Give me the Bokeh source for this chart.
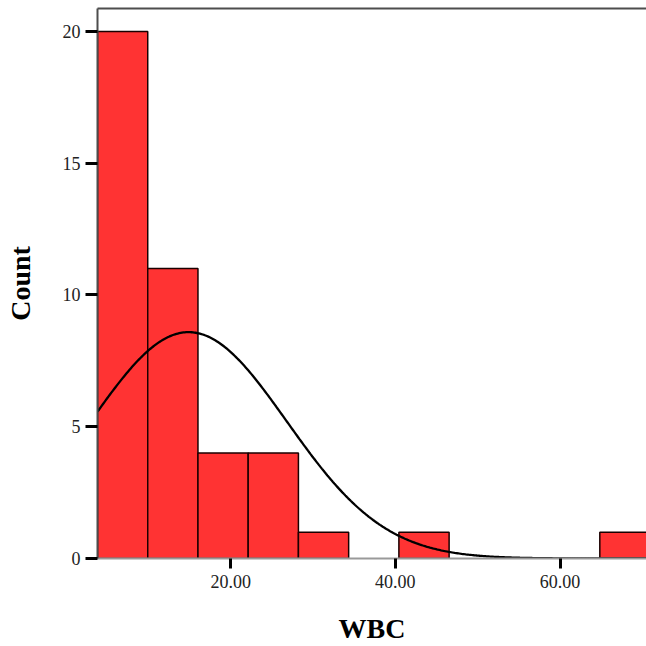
import numpy as np
from bokeh.plotting import figure
from bokeh.models import FixedTicker, NumeralTickFormatter, Range1d, LinearAxis
from bokeh.embed import file_html
from bokeh.resources import INLINE

# Data
bin_edges = [3.83, 9.93, 16.03, 22.13, 28.23, 34.33, 40.43, 46.53, 52.63, 58.73, 64.83, 70.93]
counts = [20, 11, 4, 4, 1, 0, 1, 0, 0, 0, 1]
x_ticks = [20, 40, 60]
y_ticks = [0, 5, 10, 15, 20]
# normal-curve parameters (fitted to the sample)
wbc_mean = 14.9
wbc_sd = 11.9

n_total = sum(counts)
bw = bin_edges[1] - bin_edges[0]

p = figure(width=646, height=646, output_backend="svg", toolbar_location=None,
           x_range=Range1d(3.83, 70.5), y_range=Range1d(0, 20.87),
           min_border_left=97, min_border_top=8, min_border_right=0, min_border_bottom=87)

lefts = [bin_edges[i] for i in range(len(counts)) if counts[i] > 0]
rights = [bin_edges[i + 1] for i in range(len(counts)) if counts[i] > 0]
tops = [c for c in counts if c > 0]
p.quad(left=lefts, right=rights, bottom=0, top=tops,
       fill_color="#FF3333", line_color="#1a0000", line_width=1.5)

xs = np.linspace(bin_edges[0], bin_edges[-1], 400)
ys = n_total * bw * np.exp(-0.5 * ((xs - wbc_mean) / wbc_sd) ** 2) / (wbc_sd * np.sqrt(2 * np.pi))
p.line(xs, ys, line_color="black", line_width=2.3)

p.xgrid.visible = False
p.ygrid.visible = False
p.outline_line_color = None

top_axis = LinearAxis(ticker=FixedTicker(ticks=[]), axis_line_color="#4d4d4d", axis_line_width=2,
                      major_label_text_font_size="0px", major_tick_line_color=None,
                      minor_tick_line_color=None, major_tick_out=0, major_tick_in=0,
                      major_label_standoff=0)
p.add_layout(top_axis, "above")

xax = p.below[0]
yax = p.left[0]
xax.ticker = FixedTicker(ticks=x_ticks)
xax.formatter = NumeralTickFormatter(format="0.00")
yax.ticker = FixedTicker(ticks=y_ticks)

for ax in (xax, yax):
    ax.minor_tick_line_color = None
    ax.major_tick_in = 0
    ax.major_tick_line_width = 3
    ax.major_tick_line_color = "black"
    ax.major_label_text_font = "Liberation Serif"
    ax.major_label_text_font_size = "18px"
    ax.major_label_text_color = "#222222"
    ax.axis_label_text_font = "Liberation Serif"
    ax.axis_label_text_font_style = "bold"
    ax.axis_label_text_font_size = "28px"
    ax.axis_label_text_color = "black"

yax.major_tick_out = 12
yax.major_label_standoff = 5
yax.axis_line_color = "#4d4d4d"
yax.axis_line_width = 2
yax.axis_label = "Count"
yax.axis_label_standoff = 24

xax.major_tick_out = 10
xax.major_label_standoff = 6
xax.axis_line_color = "#999999"
xax.axis_line_width = 2
xax.axis_label = "WBC"
xax.axis_label_standoff = 22

open("out.html", "w").write(file_html(p, INLINE))
